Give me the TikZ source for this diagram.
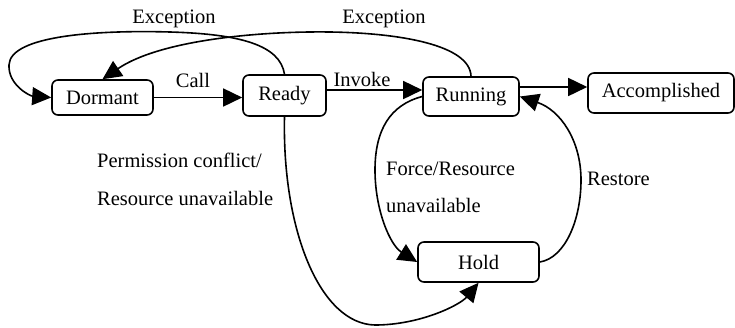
\documentclass[tikz,border=0pt]{standalone}
\usepackage{fontspec}
\setmainfont{Liberation Serif}
\usetikzlibrary{arrows.meta,calc}
\begin{document}
\begin{tikzpicture}[x=1pt,y=-1pt,
  font=\fontsize{20.5}{24}\selectfont,
  state/.style={draw, line width=1.6pt, rounded corners=6pt, inner sep=0pt, fill=white},
  conn/.style={line width=1.6pt, -{Triangle[length=19pt,width=18pt]}},
  lbl/.style={inner sep=0pt, anchor=base},
  lblw/.style={inner sep=0pt, anchor=base west}]
\useasboundingbox[fill=white] (0,0) rectangle (735,327);
% states
\node[state, minimum width=101pt, minimum height=35pt] (dormant) at (102.5,97.5) {Dormant};
\node[state, minimum width=83pt, minimum height=41pt] (ready) at (284.5,95.5) {Ready};
\node[state, minimum width=96pt, minimum height=39pt] (running) at (471,96.5) {Running};
\node[state, minimum width=146pt, minimum height=40pt] (accomplished) at (661,93) {Accomplished};
\node[state, minimum width=121pt, minimum height=40pt] (hold) at (478.5,262) {Hold};
% straight connectors
\draw[conn] (dormant.east) -- (ready.west |- dormant.east);
\draw[conn] (ready.east |- 0,90) -- (running.west |- 0,90);
\draw[conn] (running.east |- 0,87) -- (accomplished.west |- 0,87);
% exception Ready -> Dormant
\draw[conn] (ready.north) .. controls (280,45) and (240,34) .. (170,32)
  .. controls (100,30) and (10,35) .. (9,65)
  .. controls (8,85) and (30,96) .. (dormant.west);
% exception Running -> Dormant
\draw[conn] (running.north) .. controls (470,45) and (400,33) .. (330,32)
  .. controls (260,31) and (160,40) .. (dormant.north);
% Running -> Hold
\draw[conn] (running.west) .. controls (390,105) and (375,130) .. (375,170)
  .. controls (375,210) and (390,245) .. (hold.west);
% Hold -> Running
\draw[conn] (hold.east) .. controls (565,258) and (581,220) .. (581,180)
  .. controls (581,140) and (560,110) .. (running.east);
% Ready -> Hold
\draw[conn] (ready.south) .. controls (282,230) and (320,324) .. (375,325)
  .. controls (420,325) and (460,305) .. (hold.south);
% labels
\node[lbl] (lexc1) at (174,23) {Exception};
\node[lbl] (lexc2) at (384,23) {Exception};
\node[lbl] (lcall) at (193,87) {Call};
\node[lbl] (linvoke) at (362,86) {Invoke};
\node[lblw] (lperm1) at (97,167) {Permission conflict/};
\node[lblw] (lperm2) at (97,205) {Resource unavailable};
\node[lblw] (lforce1) at (386,175) {Force/Resource};
\node[lblw] (lforce2) at (386,212) {unavailable};
\node[lblw] (lrestore) at (587,185) {Restore};
\end{tikzpicture}
\end{document}
